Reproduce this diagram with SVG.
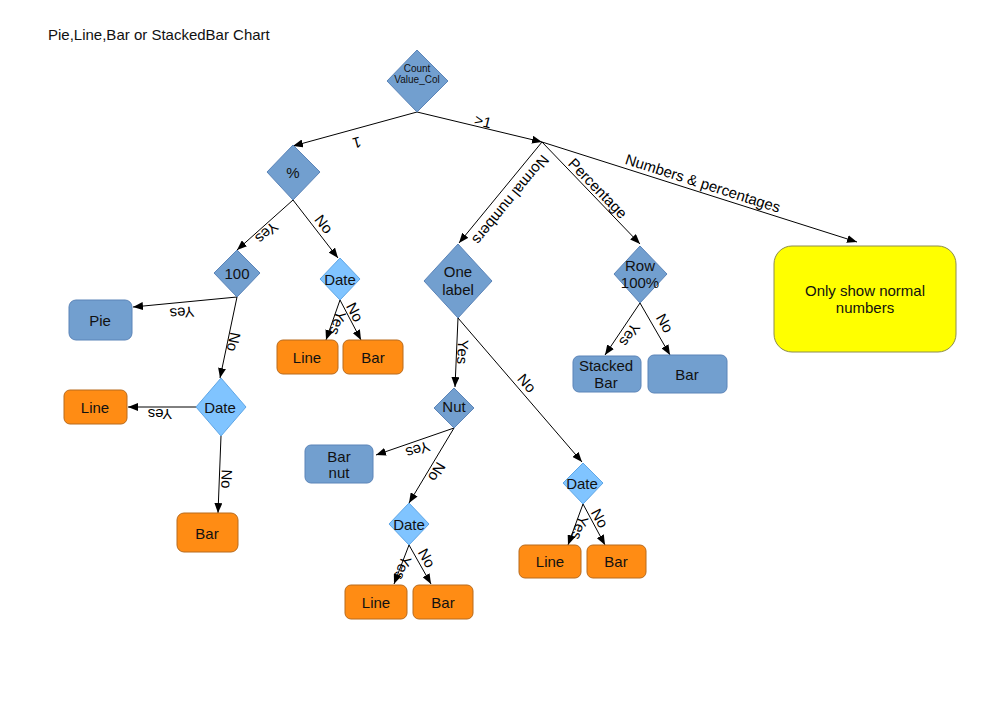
<svg xmlns="http://www.w3.org/2000/svg" width="1000" height="707" viewBox="0 0 1000 707">
  <defs>
    <marker id="arrow" viewBox="0 0 10 8" refX="10" refY="4" markerWidth="10" markerHeight="8" markerUnits="userSpaceOnUse" orient="auto">
      <path d="M0,0 L10,4 L0,8 Z" fill="#000"/>
    </marker>
    <style>
      text { font-family: "Liberation Sans", Arial, sans-serif; fill: #111; }
      .title { font-size: 15px; }
      .nt { font-size: 15px; text-anchor: middle; dominant-baseline: central; }
      .small { font-size: 10px; }
      .lbl { font-size: 15px; text-anchor: middle; dominant-baseline: central; fill: #000; }
      .blue { fill: #729fcf; stroke: #5b84b8; stroke-width: 1; }
      .light { fill: #80c4ff; stroke: #5ea6e6; stroke-width: 1; }
      .orange { fill: #ff8c14; stroke: #b86a1c; stroke-width: 1; }
      .yellow { fill: #ffff00; stroke: #8c8c50; stroke-width: 1; }
      .edge { fill: none; stroke: #000; stroke-width: 1; }
      .arr { marker-end: url(#arrow); }
    </style>
  </defs>

  <text class="title" x="48" y="40">Pie,Line,Bar or StackedBar Chart</text>

  <!-- connectors -->
  <g id="connectors">
    <line class="edge arr" x1="417" y1="112" x2="293" y2="146"/>
    <line class="edge arr" x1="417" y1="112" x2="542" y2="142"/>
    <line class="edge arr" x1="542" y1="142" x2="459" y2="243"/>
    <line class="edge arr" x1="542" y1="142" x2="640" y2="244"/>
    <line class="edge arr" x1="542" y1="142" x2="857" y2="242"/>
    <line class="edge arr" x1="293" y1="200" x2="237" y2="250"/>
    <line class="edge arr" x1="293" y1="200" x2="338" y2="258"/>
    <line class="edge arr" x1="237" y1="297" x2="133" y2="307"/>
    <line class="edge arr" x1="237" y1="297" x2="220" y2="378"/>
    <line class="edge arr" x1="196" y1="407" x2="128" y2="407"/>
    <line class="edge arr" x1="221" y1="436" x2="218" y2="513"/>
    <line class="edge arr" x1="340" y1="300" x2="326" y2="340"/>
    <line class="edge arr" x1="340" y1="300" x2="361" y2="340"/>
    <line class="edge arr" x1="458" y1="318" x2="455" y2="387"/>
    <line class="edge arr" x1="454" y1="428" x2="376" y2="455"/>
    <line class="edge arr" x1="454" y1="428" x2="409" y2="503"/>
    <line class="edge arr" x1="409" y1="545" x2="394" y2="584"/>
    <line class="edge arr" x1="409" y1="545" x2="431" y2="584"/>
    <line class="edge arr" x1="458" y1="318" x2="582" y2="462"/>
    <line class="edge arr" x1="583" y1="504" x2="568" y2="545"/>
    <line class="edge arr" x1="583" y1="504" x2="605" y2="545"/>
    <line class="edge arr" x1="640" y1="303" x2="605" y2="355"/>
    <line class="edge arr" x1="640" y1="303" x2="670" y2="355"/>

    <!-- connector labels -->
    <text class="lbl" transform="translate(357,143) rotate(164.7)">1</text>
    <text class="lbl" transform="translate(483,121) rotate(13.5)">&gt;1</text>
    <text class="lbl" transform="translate(511,200) rotate(129.4)">Normal numbers</text>
    <text class="lbl" transform="translate(598,188) rotate(45.9)">Percentage</text>
    <text class="lbl" transform="translate(703,183) rotate(17.7)">Numbers &amp; percentages</text>
    <text class="lbl" transform="translate(267,233) rotate(138.2)">Yes</text>
    <text class="lbl" transform="translate(324,224) rotate(52.2)">No</text>
    <text class="lbl" transform="translate(182,313) rotate(174.5)">Yes</text>
    <text class="lbl" transform="translate(234,342) rotate(101.9)">No</text>
    <text class="lbl" transform="translate(160,414) rotate(180)">Yes</text>
    <text class="lbl" transform="translate(227,479) rotate(92.2)">No</text>
    <text class="lbl" transform="translate(338,323) rotate(108)">Yes</text>
    <text class="lbl" transform="translate(355,312) rotate(62.3)">No</text>
    <text class="lbl" transform="translate(463,352) rotate(92.5)">Yes</text>
    <text class="lbl" transform="translate(418,450) rotate(161)">Yes</text>
    <text class="lbl" transform="translate(437,472) rotate(121)">No</text>
    <text class="lbl" transform="translate(403,568) rotate(109.7)">Yes</text>
    <text class="lbl" transform="translate(427,558) rotate(60.6)">No</text>
    <text class="lbl" transform="translate(527,383) rotate(49.3)">No</text>
    <text class="lbl" transform="translate(580,528) rotate(110)">Yes</text>
    <text class="lbl" transform="translate(600,518) rotate(61.8)">No</text>
    <text class="lbl" transform="translate(630,335) rotate(124)">Yes</text>
    <text class="lbl" transform="translate(665,323) rotate(60)">No</text>
  </g>

  <!-- decision nodes -->
  <g id="count-value-col">
    <polygon class="blue" points="417,50 448,81 417,112 387,81"/>
    <text class="nt small" x="417" y="68">Count</text>
    <text class="nt small" x="417" y="79">Value_Col</text>
  </g>
  <g id="percent">
    <polygon class="blue" points="293,145 320,172 293,200 267,172"/>
    <text class="nt" x="293" y="172">%</text>
  </g>
  <g id="hundred">
    <polygon class="blue" points="237,250 260,273 237,297 214,273"/>
    <text class="nt" x="237" y="273">100</text>
  </g>
  <g id="date-a">
    <polygon class="light" points="340,258 360,279 340,300 320,279"/>
    <text class="nt" x="340" y="279">Date</text>
  </g>
  <g id="date-b">
    <polygon class="light" points="221,378 246,407 221,436 196,407"/>
    <text class="nt" x="220" y="407">Date</text>
  </g>
  <g id="one-label">
    <polygon class="blue" points="458,244 492,281 458,318 424,281"/>
    <text class="nt" x="458" y="271">One</text>
    <text class="nt" x="458" y="289">label</text>
  </g>
  <g id="row-100">
    <polygon class="blue" points="640,246 667,274 640,303 614,274"/>
    <text class="nt" x="640" y="265">Row</text>
    <text class="nt" x="640" y="282">100%</text>
  </g>
  <g id="nut">
    <polygon class="blue" points="454,388 474,408 454,428 434,408"/>
    <text class="nt" x="454" y="406">Nut</text>
  </g>
  <g id="date-c">
    <polygon class="light" points="409,503 429,524 409,545 389,524"/>
    <text class="nt" x="409" y="524">Date</text>
  </g>
  <g id="date-d">
    <polygon class="light" points="583,463 603,483 583,504 563,483"/>
    <text class="nt" x="582" y="483">Date</text>
  </g>

  <!-- outcome nodes -->
  <g id="pie">
    <rect class="blue" x="69" y="300" width="63" height="40" rx="7"/>
    <text class="nt" x="100" y="320">Pie</text>
  </g>
  <g id="line-a">
    <rect class="orange" x="64" y="390" width="63" height="34" rx="6"/>
    <text class="nt" x="95" y="407">Line</text>
  </g>
  <g id="bar-a">
    <rect class="orange" x="177" y="513" width="61" height="39" rx="7"/>
    <text class="nt" x="207" y="533">Bar</text>
  </g>
  <g id="line-b">
    <rect class="orange" x="277" y="340" width="61" height="34" rx="6"/>
    <text class="nt" x="307" y="357">Line</text>
  </g>
  <g id="bar-b">
    <rect class="orange" x="343" y="340" width="60" height="34" rx="6"/>
    <text class="nt" x="373" y="357">Bar</text>
  </g>
  <g id="stacked-bar">
    <rect class="blue" x="573" y="356" width="68" height="36" rx="6"/>
    <text class="nt" x="606" y="365">Stacked</text>
    <text class="nt" x="606" y="382">Bar</text>
  </g>
  <g id="bar-c">
    <rect class="blue" x="648" y="355" width="79" height="38" rx="6"/>
    <text class="nt" x="687" y="374">Bar</text>
  </g>
  <g id="only-normal">
    <rect class="yellow" x="774" y="246" width="182" height="106" rx="18"/>
    <text class="nt" x="865" y="290">Only show normal</text>
    <text class="nt" x="865" y="307">numbers</text>
  </g>
  <g id="bar-nut">
    <rect class="blue" x="305" y="445" width="68" height="38" rx="6"/>
    <text class="nt" x="339" y="456">Bar</text>
    <text class="nt" x="339" y="472">nut</text>
  </g>
  <g id="line-c">
    <rect class="orange" x="345" y="585" width="62" height="34" rx="6"/>
    <text class="nt" x="376" y="602">Line</text>
  </g>
  <g id="bar-d">
    <rect class="orange" x="413" y="585" width="60" height="34" rx="6"/>
    <text class="nt" x="443" y="602">Bar</text>
  </g>
  <g id="line-d">
    <rect class="orange" x="519" y="545" width="62" height="33" rx="6"/>
    <text class="nt" x="550" y="561">Line</text>
  </g>
  <g id="bar-e">
    <rect class="orange" x="587" y="545" width="59" height="33" rx="6"/>
    <text class="nt" x="616" y="561">Bar</text>
  </g>
</svg>
